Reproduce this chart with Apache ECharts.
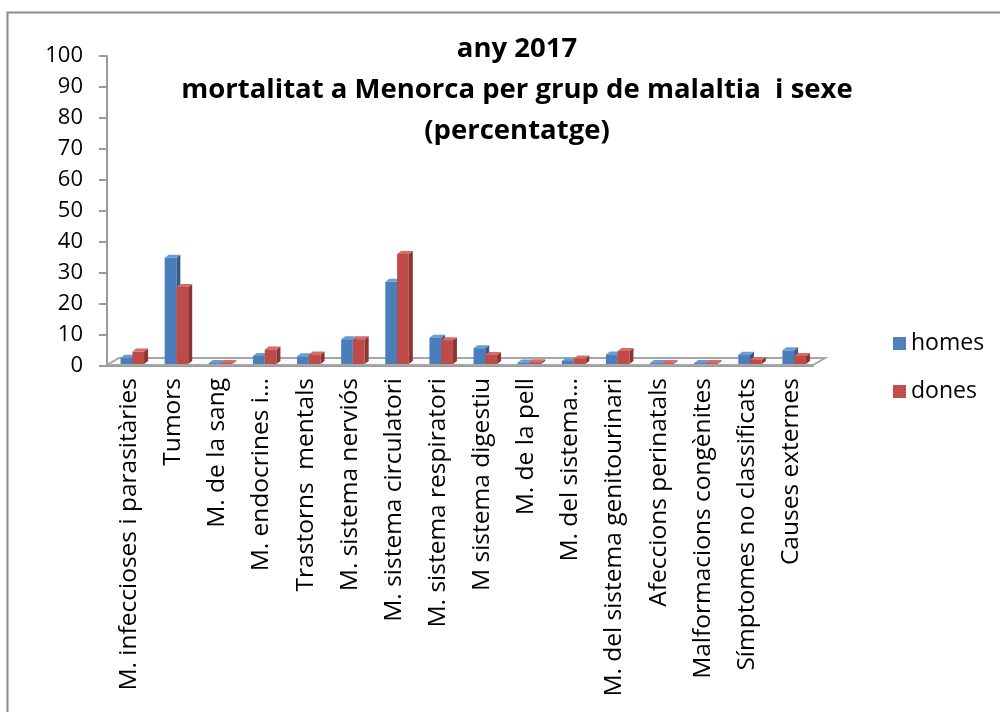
<!DOCTYPE html>
<html>
<head>
<meta charset="utf-8">
<script src="https://cdn.jsdelivr.net/npm/echarts@6/dist/echarts.min.js"></script>
<style>
  html, body { margin: 0; padding: 0; background: #fff; }
  #main { width: 1000px; height: 712px; }
</style>
</head>
<body>
<div id="main"></div>
<script>
// dades llegides del gràfic (percentatge)
const categories = [
  "M. infeccioses i parasitàries",
  "Tumors",
  "M. de la sang",
  "M. endocrines i…",
  "Trastorns  mentals",
  "M. sistema nerviós",
  "M. sistema circulatori",
  "M. sistema respiratori",
  "M sistema digestiu",
  "M. de la pell",
  "M. del sistema…",
  "M. del sistema genitourinari",
  "Afeccions perinatals",
  "Malformacions congènites",
  "Símptomes no classificats",
  "Causes externes"
];
const homes = [2, 34.3, 0.3, 2.6, 2.5, 8, 26.5, 8.5, 5.1, 0.5, 1, 3.1, 0.3, 0.3, 3, 4.4];
const dones = [4, 24.8, 0.3, 4.7, 3.1, 8, 35.5, 7.7, 2.9, 0.6, 1.8, 4.2, 0.3, 0.3, 1.3, 2.6];

const FONT = "'Open Sans', 'Noto Sans', sans-serif";

const myChart = echarts.init(document.getElementById("main"));

// columna pseudo 3D: cara frontal, lateral i superior
function bar3d(shift, face, side, top) {
  return function (params, api) {
    const i = api.value(0);
    const v = api.value(1);
    const band = api.size([1, 0])[0];
    const w = band * 0.265;
    const base = api.coord([i, 0]);
    const head = api.coord([i, v]);
    const x = base[0] + shift * band;
    const y0 = base[1] - 2;
    const y1 = head[1] - 2;
    const dx = 4, dy = -3;
    return {
      type: "group",
      children: [
        { type: "polygon", shape: { points: [[x + w, y0], [x + w + dx, y0 + dy], [x + w + dx, y1 + dy], [x + w, y1]] }, style: { fill: side } },
        { type: "polygon", shape: { points: [[x, y1], [x + dx, y1 + dy], [x + w + dx, y1 + dy], [x + w, y1]] }, style: { fill: top } },
        { type: "rect", shape: { x: x, y: y1, width: w, height: Math.max(y0 - y1, 0.5) }, style: { fill: face } }
      ]
    };
  };
}

// terra del gràfic 3D
function floor(params, api) {
  const cs = params.coordSys;
  const x0 = cs.x, x1 = cs.x + cs.width, y = cs.y + cs.height - 1;
  const dx = 12, dy = -7;
  return {
    type: "polygon",
    shape: { points: [[x0, y], [x1, y], [x1 + dx, y + dy], [x0 + dx, y + dy]] },
    style: { fill: "#fafafa", stroke: "#a6a6a6", lineWidth: 2 }
  };
}

myChart.setOption({
  animation: false,
  title: {
    text: "any 2017\nmortalitat a Menorca per grup de malaltia  i sexe\n(percentatge)",
    left: 512,
    textAlign: "center",
    top: 24,
    textStyle: { fontFamily: FONT, fontSize: 27.5, fontWeight: "bold", color: "#000", lineHeight: 41 }
  },
  graphic: [{
    type: "rect",
    left: 5, top: 10,
    shape: { width: 1010, height: 720 },
    style: { fill: "none", stroke: "#8a8a8a", lineWidth: 2 },
    silent: true
  }],
  legend: {
    data: ["homes", "dones"],
    orient: "vertical",
    left: 888,
    top: 327,
    itemWidth: 13,
    itemHeight: 13,
    itemGap: 25,
    icon: "rect",
    textStyle: { fontFamily: FONT, fontSize: 23, color: "#000" }
  },
  grid: { left: 107, right: 187, top: 56, bottom: 346 },
  xAxis: {
    type: "category",
    data: categories,
    axisLine: { lineStyle: { color: "#9a9a9a", width: 2 } },
    axisTick: { interval: 0, length: 8, lineStyle: { color: "#9a9a9a", width: 2 } },
    axisLabel: { interval: 0, rotate: 90, margin: 12, fontFamily: FONT, fontSize: 24.5, color: "#000" }
  },
  yAxis: {
    type: "value",
    min: 0,
    max: 100,
    interval: 10,
    splitLine: { show: false },
    axisLine: { show: true, lineStyle: { color: "#9a9a9a", width: 2 } },
    axisTick: { show: true, length: 8, lineStyle: { color: "#9a9a9a", width: 2 } },
    axisLabel: { margin: 24, fontFamily: FONT, fontSize: 22, color: "#000" }
  },
  series: [
    {
      name: "floor",
      type: "custom",
      silent: true,
      clip: false,
      z: 1,
      renderItem: floor,
      encode: { x: 0, y: 1 },
      data: [[0, 0]]
    },
    {
      name: "homes",
      type: "custom",
      clip: false,
      z: 2,
      itemStyle: { color: "#4f81bd" },
      renderItem: bar3d(-0.193, "#4a7ebb", "#345a8a", "#6c9bd6"),
      encode: { x: 0, y: 1 },
      data: homes.map((v, i) => [i, v])
    },
    {
      name: "dones",
      type: "custom",
      clip: false,
      z: 3,
      itemStyle: { color: "#c0504d" },
      renderItem: bar3d(0.075, "#be4b48", "#8c3633", "#d66b68"),
      encode: { x: 0, y: 1 },
      data: dones.map((v, i) => [i, v])
    }
  ]
});
</script>
</body>
</html>
